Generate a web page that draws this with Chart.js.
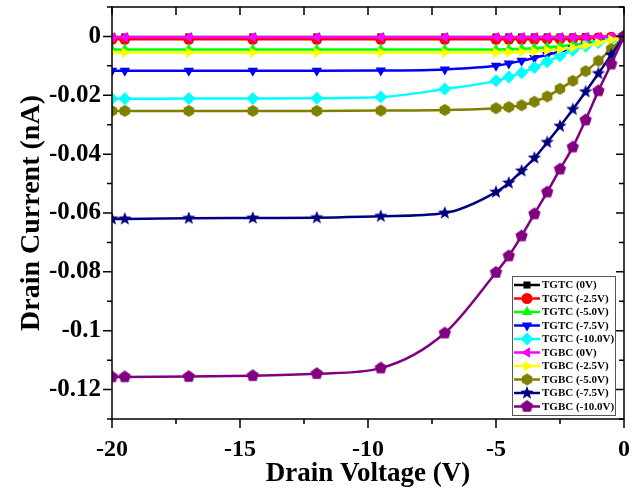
<!DOCTYPE html>
<html>
<head>
<meta charset="utf-8">
<script src="https://cdn.jsdelivr.net/npm/chart.js@4/dist/chart.umd.min.js"></script>
<style>
  html, body { margin: 0; padding: 0; background: #fff; }
  #wrap { width: 640px; height: 495px; }
</style>
</head>
<body>
<div id="wrap"><canvas id="ivChart" width="640" height="495"></canvas></div>
<script>
// drain voltage sweep (V)
var voltage = [-20, -19.5, -17, -14.5, -12, -9.5, -7, -5, -4.5, -4, -3.5, -3, -2.5, -2, -1.5, -1, -0.5, 0];

// drain current (nA)
var tgtc0   = [-0.0002, -0.0002, -0.0002, -0.0002, -0.0002, -0.0002, -0.0002, -0.0002, -0.0002, -0.0002, -0.0002, -0.0002, -0.0002, -0.0002, -0.0001, -0.0001, -0.0001, 0];
var tgtc25  = [-0.0010, -0.0010, -0.0010, -0.0010, -0.0010, -0.0010, -0.0010, -0.0010, -0.0010, -0.0010, -0.0010, -0.0009, -0.0009, -0.0008, -0.0007, -0.0005, -0.0003, 0];
var tgtc50  = [-0.0044, -0.0044, -0.0044, -0.0044, -0.0044, -0.0044, -0.0044, -0.0044, -0.0043, -0.0042, -0.0040, -0.0037, -0.0033, -0.0028, -0.0022, -0.0015, -0.0008, 0];
var tgtc75  = [-0.0117, -0.0117, -0.0117, -0.0117, -0.0117, -0.0116, -0.0112, -0.0100, -0.0092, -0.0083, -0.0073, -0.0062, -0.0052, -0.0041, -0.0031, -0.0020, -0.0010, 0];
var tgtc100 = [-0.0212, -0.0212, -0.0211, -0.0211, -0.0210, -0.0206, -0.0179, -0.0151, -0.0138, -0.0123, -0.0106, -0.0086, -0.0066, -0.0047, -0.0033, -0.0021, -0.0010, 0];
var tgbc0   = [-0.0003, -0.0003, -0.0003, -0.0003, -0.0003, -0.0003, -0.0003, -0.0003, -0.0003, -0.0003, -0.0003, -0.0003, -0.0003, -0.0003, -0.0002, -0.0002, -0.0001, 0];
var tgbc25  = [-0.0055, -0.0055, -0.0055, -0.0055, -0.0055, -0.0055, -0.0055, -0.0055, -0.0054, -0.0053, -0.0051, -0.0048, -0.0044, -0.0038, -0.0031, -0.0022, -0.0011, 0];
var tgbc50  = [-0.0253, -0.0253, -0.0253, -0.0253, -0.0253, -0.0252, -0.0250, -0.0244, -0.0240, -0.0234, -0.0222, -0.0204, -0.0178, -0.0151, -0.0118, -0.0083, -0.0043, 0];
var tgbc75  = [-0.0620, -0.0620, -0.0618, -0.0617, -0.0616, -0.0611, -0.0600, -0.0529, -0.0498, -0.0457, -0.0413, -0.0360, -0.0305, -0.0248, -0.0188, -0.0126, -0.0063, 0];
var tgbc100 = [-0.1157, -0.1157, -0.1156, -0.1153, -0.1146, -0.1127, -0.1008, -0.0802, -0.0746, -0.0678, -0.0603, -0.0529, -0.0451, -0.0376, -0.0284, -0.0185, -0.0094, 0];

var seriesNames = ["TGTC (0V)", "TGTC (-2.5V)", "TGTC (-5.0V)", "TGTC (-7.5V)", "TGTC (-10.0V)",
                   "TGBC (0V)", "TGBC (-2.5V)", "TGBC (-5.0V)", "TGBC (-7.5V)", "TGBC (-10.0V)"];
var seriesValues = [tgtc0, tgtc25, tgtc50, tgtc75, tgtc100, tgbc0, tgbc25, tgbc50, tgbc75, tgbc100];

var xTicks = [-20, -15, -10, -5, 0];
var yTicks = [0, -0.02, -0.04, -0.06, -0.08, -0.1, -0.12];

var colors = ["#000000", "#ff0000", "#00ff00", "#0000ff", "#00ffff",
              "#ff00ff", "#ffff00", "#808000", "#000080", "#800080"];

var FONT = "'Liberation Serif', 'Times New Roman', serif";

// polygon / star markers as small canvases
function shapeCanvas(kind, color, r) {
  var s = Math.ceil(r * 2 + 2);
  var c = document.createElement('canvas');
  c.width = s; c.height = s;
  var g = c.getContext('2d');
  g.fillStyle = color;
  g.beginPath();
  var n = kind === 'hex' ? 6 : kind === 'pent' ? 5 : 10;
  for (var i = 0; i < n; i++) {
    var a = -Math.PI / 2 + i * 2 * Math.PI / n;
    var rr = (kind === 'star' && i % 2) ? r * 0.42 : r;
    var px = s / 2 + rr * Math.cos(a), py = s / 2 + rr * Math.sin(a);
    if (i === 0) g.moveTo(px, py); else g.lineTo(px, py);
  }
  g.closePath();
  g.fill();
  return c;
}

var styles = ['rect', 'circle', 'triangle', 'triangle', 'rectRot', 'triangle', 'triangle',
              shapeCanvas('hex', colors[7], 6), shapeCanvas('star', colors[8], 7), shapeCanvas('pent', colors[9], 6.5)];
var rotations = [0, 0, 0, 180, 0, -90, 90, 0, 0, 0];
var radii = [5, 5.5, 6, 6, 6.5, 6, 6, 6, 7, 6];

var datasets = seriesNames.map(function (name, i) {
  return {
    label: name,
    data: voltage.map(function (v, k) { return { x: v, y: seriesValues[i][k] }; }),
    borderColor: colors[i],
    backgroundColor: colors[i],
    borderWidth: 2.5,
    pointStyle: styles[i],
    rotation: rotations[i],
    pointRadius: radii[i],
    pointBorderWidth: 0,
    cubicInterpolationMode: 'monotone',
    order: seriesNames.length - i
  };
});

// frame, ticks (major and minor) and the inset legend
var framePlugin = {
  id: 'frame',
  afterDraw: function (chart) {
    var ctx = chart.ctx, a = chart.chartArea;
    var xs = chart.scales.x, ys = chart.scales.y;
    ctx.save();
    ctx.strokeStyle = '#000';
    ctx.lineWidth = 1.5;
    ctx.strokeRect(a.left, a.top, a.right - a.left, a.bottom - a.top);
    ctx.beginPath();
    var v, p, len;
    for (v = -20; v <= 0.001; v += 2.5) {
      p = xs.getPixelForValue(v);
      len = (Math.abs(v % 5) < 0.01) ? 9 : 5;
      ctx.moveTo(p, a.bottom); ctx.lineTo(p, a.bottom + len);
      ctx.moveTo(p, a.top); ctx.lineTo(p, a.top + 8);
    }
    for (v = 0.01; v >= -0.1301; v -= 0.01) {
      p = ys.getPixelForValue(v);
      var major = Math.abs(Math.round(v * 100) % 2) === 0;
      len = major ? 9 : 5;
      ctx.moveTo(a.left, p); ctx.lineTo(a.left - len, p);
      ctx.moveTo(a.right, p); ctx.lineTo(a.right - (major ? 8 : 5), p);
    }
    ctx.stroke();

    // legend box
    var lx = 512, ly = 276, lw = 103, lh = 139, row = 13.5;
    ctx.fillStyle = '#fff';
    ctx.fillRect(lx, ly, lw, lh);
    ctx.strokeStyle = '#555';
    ctx.lineWidth = 1;
    ctx.strokeRect(lx + 0.5, ly + 0.5, lw, lh);
    ctx.font = "bold 11px " + FONT;
    ctx.textBaseline = 'middle';
    chart.data.datasets.forEach(function (ds, i) {
      var yy = ly + 9 + i * row;
      ctx.strokeStyle = ds.borderColor;
      ctx.lineWidth = 2.5;
      ctx.beginPath();
      ctx.moveTo(lx + 2, yy); ctx.lineTo(lx + 28, yy);
      ctx.stroke();
      ctx.fillStyle = ds.backgroundColor;
      if (typeof ds.pointStyle === 'string') {
        Chart.helpers.drawPoint(ctx, { pointStyle: ds.pointStyle, rotation: ds.rotation, radius: ds.pointRadius, borderWidth: 0 }, lx + 15, yy);
      } else {
        ctx.drawImage(ds.pointStyle, lx + 15 - ds.pointStyle.width / 2, yy - ds.pointStyle.height / 2);
      }
      ctx.fillStyle = '#000';
      ctx.fillText(ds.label, lx + 30, yy + 0.5);
    });
    ctx.restore();
  }
};

function noPad(s) {
  s.paddingTop = 0; s.paddingBottom = 0; s.paddingLeft = 0; s.paddingRight = 0;
}

new Chart(document.getElementById('ivChart'), {
  type: 'line',
  data: { datasets: datasets },
  plugins: [framePlugin],
  options: {
    responsive: false,
    animation: false,
    devicePixelRatio: 1,
    layout: { padding: { top: 7, right: 16, left: 0, bottom: 0 } },
    plugins: { legend: { display: false }, tooltip: { enabled: false } },
    scales: {
      x: {
        type: 'linear',
        min: -20, max: 0,
        afterFit: function (s) { s.height = 76; noPad(s); },
        afterBuildTicks: function (s) { s.ticks = xTicks.map(function (t) { return { value: t }; }); },
        grid: { display: false, drawTicks: false },
        border: { display: false },
        ticks: { color: '#000', padding: 16, maxRotation: 0, font: { family: FONT, size: 24, weight: 'bold' } },
        title: { display: true, text: 'Drain Voltage (V)', color: '#000', padding: { top: 0, bottom: 5 },
                 font: { family: FONT, size: 27, weight: 'bold' } }
      },
      y: {
        type: 'linear',
        min: -0.13, max: 0.01,
        afterFit: function (s) { s.width = 112; noPad(s); },
        afterBuildTicks: function (s) { s.ticks = yTicks.map(function (t) { return { value: t }; }); },
        grid: { display: false, drawTicks: false },
        border: { display: false },
        ticks: { color: '#000', padding: 11, font: { family: FONT, size: 25, weight: 'bold' },
                 callback: function (v) { return String(Math.round(v * 100) / 100); } },
        title: { display: true, text: 'Drain Current (nA)', color: '#000', padding: { top: 15, bottom: 0 },
                 font: { family: FONT, size: 28, weight: 'bold' } }
      }
    }
  }
});
</script>
</body>
</html>
